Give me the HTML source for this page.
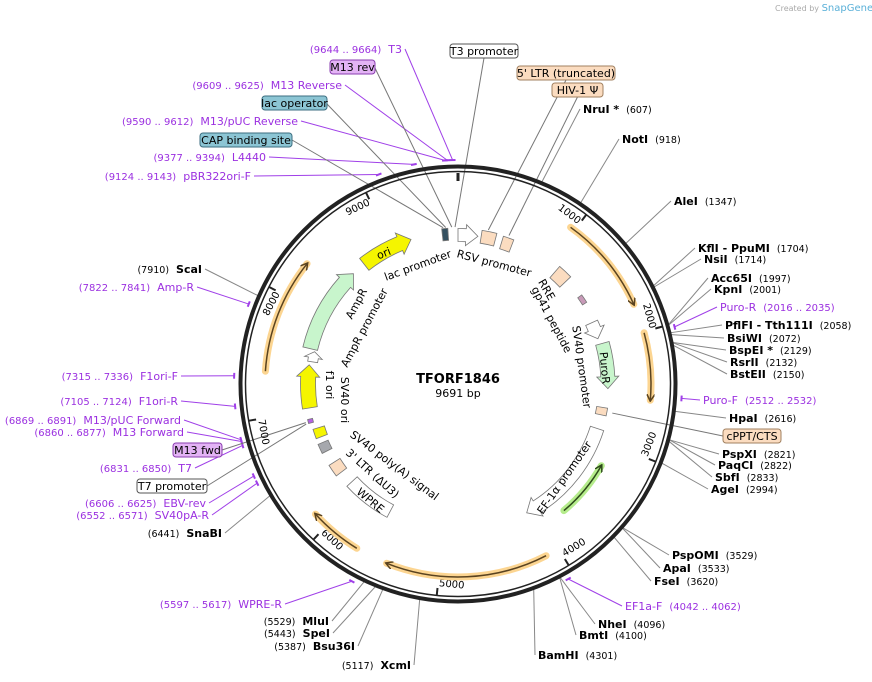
<!DOCTYPE html>
<html><head><meta charset="utf-8"><style>
body{margin:0;background:#fff}
svg{display:block;font-family:"DejaVu Sans","Liberation Sans",sans-serif}
</style></head><body>
<svg id="map" width="872" height="682" viewBox="0 0 872 682" xmlns="http://www.w3.org/2000/svg">
<defs>
<marker id="ah" markerWidth="8" markerHeight="8" refX="6" refY="4" orient="auto" markerUnits="userSpaceOnUse"><path d="M0,0 L7,4 L0,8" fill="none" stroke="#5a4320" stroke-width="1.5"/></marker>
<marker id="ahg" markerWidth="8" markerHeight="8" refX="6" refY="4" orient="auto" markerUnits="userSpaceOnUse"><path d="M0,0 L7,4 L0,8" fill="none" stroke="#2d4a1a" stroke-width="1.5"/></marker>
</defs>
<text x="775" y="11" font-size="8" fill="#aaa">Created by <tspan fill="#5ab0d8" font-size="10">SnapGene</tspan></text>
<g id="lines"></g>
<g id="ring">
<circle cx="458" cy="384" r="217.5" fill="none" stroke="#222" stroke-width="4"/>
<circle cx="458" cy="384" r="212.5" fill="none" stroke="#222" stroke-width="1.5"/>
</g>
<g id="ticks"></g>
<g id="orfs"></g>
<g id="feats"></g>
<g id="labels"></g>
<text x="458" y="383" text-anchor="middle" font-size="13" font-weight="bold">TFORF1846</text>
<text x="458" y="397" text-anchor="middle" font-size="11">9691 bp</text>
</svg>
<script>
const N = 9691;
const tickValues = [1000,2000,3000,4000,5000,6000,7000,8000,9000];

// ORF arcs (start, end, direction)
const orfStart = [961, 2009, 4114, 5697, 7371, 3222];
const orfEnd   = [1766, 2552, 5430, 6127, 8306, 3771];
const orfDir   = [1, 1, 1, 1, 1, -1];

// inner features
const featName  = ["RSV promoter","5' LTR (truncated)","HIV-1 psi","RRE","gp41 peptide","SV40 promoter","PuroR","cPPT/CTS","EF-1a promoter","WPRE","3' LTR","SV40 poly(A) signal","SV40 ori","primer sites","f1 ori","AmpR promoter","AmpR","ori","lac elements"];
const featStart = [0, 240, 460, 1100, 1460, 1760, 2000, 2670, 2900, 5600, 6270, 6540, 6700, 6870, 7021, 7500, 7630, 8666, 9530];
const featEnd   = [207, 390, 570, 1250, 1550, 1940, 2470, 2750, 4090, 6120, 6400, 6640, 6800, 6910, 7466, 7610, 8520, 9206, 9590];
const featDir   = [1, 0, 0, 0, 0, 1, 1, 0, 1, 0, 0, 0, 0, 0, 1, 1, 1, 1, 0];

// outside labels
const outName = ["NruI *","NotI","AleI","KflI - PpuMI","NsiI","Acc65I","KpnI","Puro-R","PflFI - Tth111I","BsiWI","BspEI *","RsrII","BstEII","Puro-F","HpaI","PspXI","PaqCI","SbfI","AgeI","PspOMI","ApaI","FseI","EF1a-F","NheI","BmtI","BamHI","XcmI","Bsu36I","SpeI","MluI","WPRE-R","SnaBI","SV40pA-R","EBV-rev","T7","M13 Forward","M13/pUC Forward","F1ori-R","F1ori-F","Amp-R","ScaI","pBR322ori-F","L4440","M13/pUC Reverse","M13 Reverse","T3"];
const outNum  = ["(607)","(918)","(1347)","(1704)","(1714)","(1997)","(2001)","(2016 .. 2035)","(2058)","(2072)","(2129)","(2132)","(2150)","(2512 .. 2532)","(2616)","(2821)","(2822)","(2833)","(2994)","(3529)","(3533)","(3620)","(4042 .. 4062)","(4096)","(4100)","(4301)","(5117)","(5387)","(5443)","(5529)","(5597 .. 5617)","(6441)","(6552 .. 6571)","(6606 .. 6625)","(6831 .. 6850)","(6860 .. 6877)","(6869 .. 6891)","(7105 .. 7124)","(7315 .. 7336)","(7822 .. 7841)","(7910)","(9124 .. 9143)","(9377 .. 9394)","(9590 .. 9612)","(9609 .. 9625)","(9644 .. 9664)"];
const outPos  = [607,918,1347,1704,1714,1997,2001,2025,2058,2072,2129,2132,2150,2522,2616,2821,2822,2833,2994,3529,3533,3620,4052,4096,4100,4301,5117,5387,5443,5529,5607,6441,6561,6615,6840,6868,6880,7114,7325,7831,7910,9133,9385,9601,9617,9654];
const outKind = ["e","e","e","e","e","e","e","p","e","e","e","e","e","p","e","e","e","e","e","e","e","e","p","e","e","e","e","e","e","e","p","e","p","p","p","p","p","p","p","p","e","p","p","p","p","p"];
// layout for outside labels (text x, baseline y, anchor)
const outX = [583,622,674,698,704,711,714,720,725,727,729,730,730,703,729,722,718,715,711,672,663,654,625,598,579,538,411,355,330,329,282,222,209,206,192,184,181,178,178,194,202,251,266,298,342,402];
const outY = [113,143,205,252,263,282,293,311,329,342,354,366,378,404,422,458,469,481,493,559,572,585,610,628,639,659,669,650,637,625,608,537,519,507,472,436,424,405,380,291,273,180,161,125,89,53];
const outEnd = [0,0,0,0,0,0,0,0,0,0,0,0,0,0,0,0,0,0,0,0,0,0,0,0,0,0,1,1,1,1,1,1,1,1,1,1,1,1,1,1,1,1,1,1,1,1];

// boxed feature labels
const boxName = ["T3 promoter","5' LTR (truncated)","HIV-1 \u03A8","cPPT/CTS","T7 promoter","M13 fwd","CAP binding site","lac operator","M13 rev"];
const boxPos  = [9662, 300, 510, 2710, 6870, 6885, 9545, 9570, 9630];
const boxKind = ["w","o","o","o","w","m","b","b","m"];
const boxX = [450,517,552,723,137,173,200,262,330];
const boxY = [44,66,83,429,479,443,133,96,60];
const boxW = [68,98,51,58,70,49,92,65,45];

const cx = 458, cy = 384;
const NS = "http://www.w3.org/2000/svg";
function P(pos, r){ const a = pos/N*2*Math.PI; return [cx + r*Math.sin(a), cy - r*Math.cos(a)]; }
function mk(tag, attrs, parent){ const e=document.createElementNS(NS,tag); for(const k in attrs) e.setAttribute(k,attrs[k]); parent.appendChild(e); return e; }
function arc(s,e,r,sweep){ const p=P(e,r); const large = Math.abs(e-s)>N/2?1:0; return `A${r},${r} 0 ${large} ${sweep} ${p[0].toFixed(1)},${p[1].toFixed(1)}`; }
function pt(p){ return p[0].toFixed(1)+","+p[1].toFixed(1); }

// ticks
const gT = document.getElementById('ticks');
tickValues.forEach(v=>{
  const a=P(v,212), b=P(v,205);
  const l=mk('line',{x1:a[0],y1:a[1],x2:b[0],y2:b[1],stroke:'#222','stroke-width':2},gT);
  
  
  let ang=v/N*360; const bottom = ang>90&&ang<270;
  const p=P(v-8,206);
  const rot = bottom ? ang-180 : ang;
  const t=mk('text',{x:p[0],y:p[1],'text-anchor':bottom?'start':'end','dominant-baseline':bottom?'text-after-edge':'hanging','font-size':10,transform:`rotate(${rot.toFixed(1)} ${p[0].toFixed(1)} ${p[1].toFixed(1)})`},gT);
  t.textContent=v;
  
  
});
{ const a=P(0,211), b=P(0,203); mk('line',{x1:a[0],y1:a[1],x2:b[0],y2:b[1],stroke:'#222','stroke-width':3},gT); }

// ORFs
const gO = document.getElementById('orfs');
const orfR = [193,193,193,193,193,165];
orfStart.forEach((s,i)=>{
  const e=orfEnd[i], r=orfR[i];
  let d;
  if(orfDir[i]>0){ d=`M${pt(P(s,r))} ${arc(s,e,r,1)}`; } else { d=`M${pt(P(e,r))} ${arc(e,s,r,0)}`; }
  const green = i===5;
  const g1=mk('path',{d:d,fill:'none',stroke:green?'#b5ec8c':'#fcd591','stroke-width':7,'stroke-linecap':'round'},gO);
  
  
  const g2=mk('path',{d:d,fill:'none',stroke:green?'#2d4a1a':'#5a4320','stroke-width':1.5,'marker-end':green?'url(#ahg)':'url(#ah)'},gO);
  
  
});

// features
const featR    = [149,149,148,148,150,147,150,146,146,144,146,147,146,152,150,147,152,152,150];
const featW    = [13,13,13,15,5,13,14,11,14,14,13,11,12,5,15,10,15,15,12];
const featFill = ["#fff","#fbdcc0","#fbdcc0","#fbdcc0","#c89ab8","#fff","#c8f5cc","#fbdcc0","#fff","#fff","#fbdcc0","#a6a8ad","#f5f500","#b460e6","#f5f500","#fff","#c8f5cc","#f5f500","#345060"];
const gF = document.getElementById('feats');
featStart.forEach((s,i)=>{
  const e=featEnd[i], r=featR[i], hw=featW[i]/2, dir=featDir[i];
  const hl=Math.min(12/r*N/(2*Math.PI),(e-s)*0.6);
  let s2=s,e2=e; if(dir===1) e2=e-hl; if(dir===-1) s2=s+hl;
  let d=`M${pt(P(s2,r+hw))} ${arc(s2,e2,r+hw,1)}`;
  if(dir===1) d+=` L${pt(P(e2,r+hw+4))} L${pt(P(e,r))} L${pt(P(e2,r-hw-4))} L${pt(P(e2,r-hw))}`;
  else d+=` L${pt(P(e,r-hw))}`;
  d+=` ${arc(e2,s2,r-hw,0)} Z`;
  const p=mk('path',{d:d,fill:featFill[i],stroke:'#777','stroke-width':0.8},gF);
  
  
});

// inner feature labels (layout only)
const inLab = [["lac promoter",418,266,-20],["RSV promoter",494,264,15],["RRE",546,290,60],["gp41 peptide",551,320,62],["SV40 promoter",581,367,82],["PuroR",604,368,85],["EF-1\u03B1 promoter",565,478,-55],["AmpR",357,304,-62],["AmpR promoter",365,328,-62],["f1 ori",329,385,90],["SV40 ori",344,400,90],["SV40 poly(A) signal",394,466,37],["3' LTR (\u0394U3)",372,474,42],["WPRE",370,501,40],["ori",384,254,-22]];
inLab.forEach(L=>{
  const t=mk('text',{x:L[1],y:L[2],'text-anchor':'middle','dominant-baseline':'middle','font-size':11,transform:`rotate(${L[3]} ${L[1]} ${L[2]})`},gF);
  t.textContent=L[0];
  
  
});

// outside labels
const gL=document.getElementById('labels'), gLn=document.getElementById('lines');
outName.forEach((nm,i)=>{
  const prim = outKind[i]==='p', end=outEnd[i]===1;
  const x=outX[i], y=outY[i];
  const t=mk('text',{x:x,y:y,'text-anchor':end?'end':'start','font-size':11},gL);
  
  
  const nameT = `<tspan font-weight="${prim?'normal':'bold'}" fill="${prim?'#9b30e0':'#000'}">${nm}</tspan>`;
  const numT = `<tspan font-size="${prim?10:9.5}" fill="${prim?'#9b30e0':'#000'}">${outNum[i]}</tspan>`;
  t.innerHTML = end ? numT+'\u00A0\u00A0'+nameT : nameT+'\u00A0\u00A0'+numT;
  const r0 = prim?224:219;
  const a=P(outPos[i],r0);
  const ax = end ? x+3 : x-3;
  const ln=mk('line',{x1:a[0],y1:a[1],x2:ax,y2:y-4,stroke:prim?'#a040e8':'#888','stroke-width':1},gLn);
  
  
  if(prim){ const b=P(outPos[i]-20,r0), c=P(outPos[i]+20,r0);
    mk('line',{x1:b[0],y1:b[1],x2:c[0],y2:c[1],stroke:'#a040e8','stroke-width':2},gLn); }
});
const boxFill={w:'#fff',o:'#fbdcc0',m:'#e3b3f5',b:'#8cc5d4'};
const boxStroke={w:'#555',o:'#a08060',m:'#8a3cb0',b:'#3c6e80'};
boxName.forEach((nm,i)=>{
  const x=boxX[i], y=boxY[i], w=boxW[i];
  const r=mk('rect',{x:x,y:y,width:w,height:14,rx:3,fill:boxFill[boxKind[i]],stroke:boxStroke[boxKind[i]],'stroke-width':1},gL);
  
  
  const t=mk('text',{x:x+w/2,y:y+11,'text-anchor':'middle','font-size':11},gL);
  t.textContent=nm;
  
  
  const a=P(boxPos[i],157);
  const ang=boxPos[i]/N*360;
  let ax,ay;
  if(y<120){ ax=x+w/2; ay=y+14; if(boxKind[i]==='m'||boxKind[i]==='b'){ax=x+w; ay=y+8;} }
  else if(ang<180){ ax=x; ay=y+7; } else { ax=x+w; ay=y+7; }
  const ln=mk('line',{x1:a[0],y1:a[1],x2:ax,y2:ay,stroke:'#777','stroke-width':1},gLn);
  
  
});
</script>
</body></html>
